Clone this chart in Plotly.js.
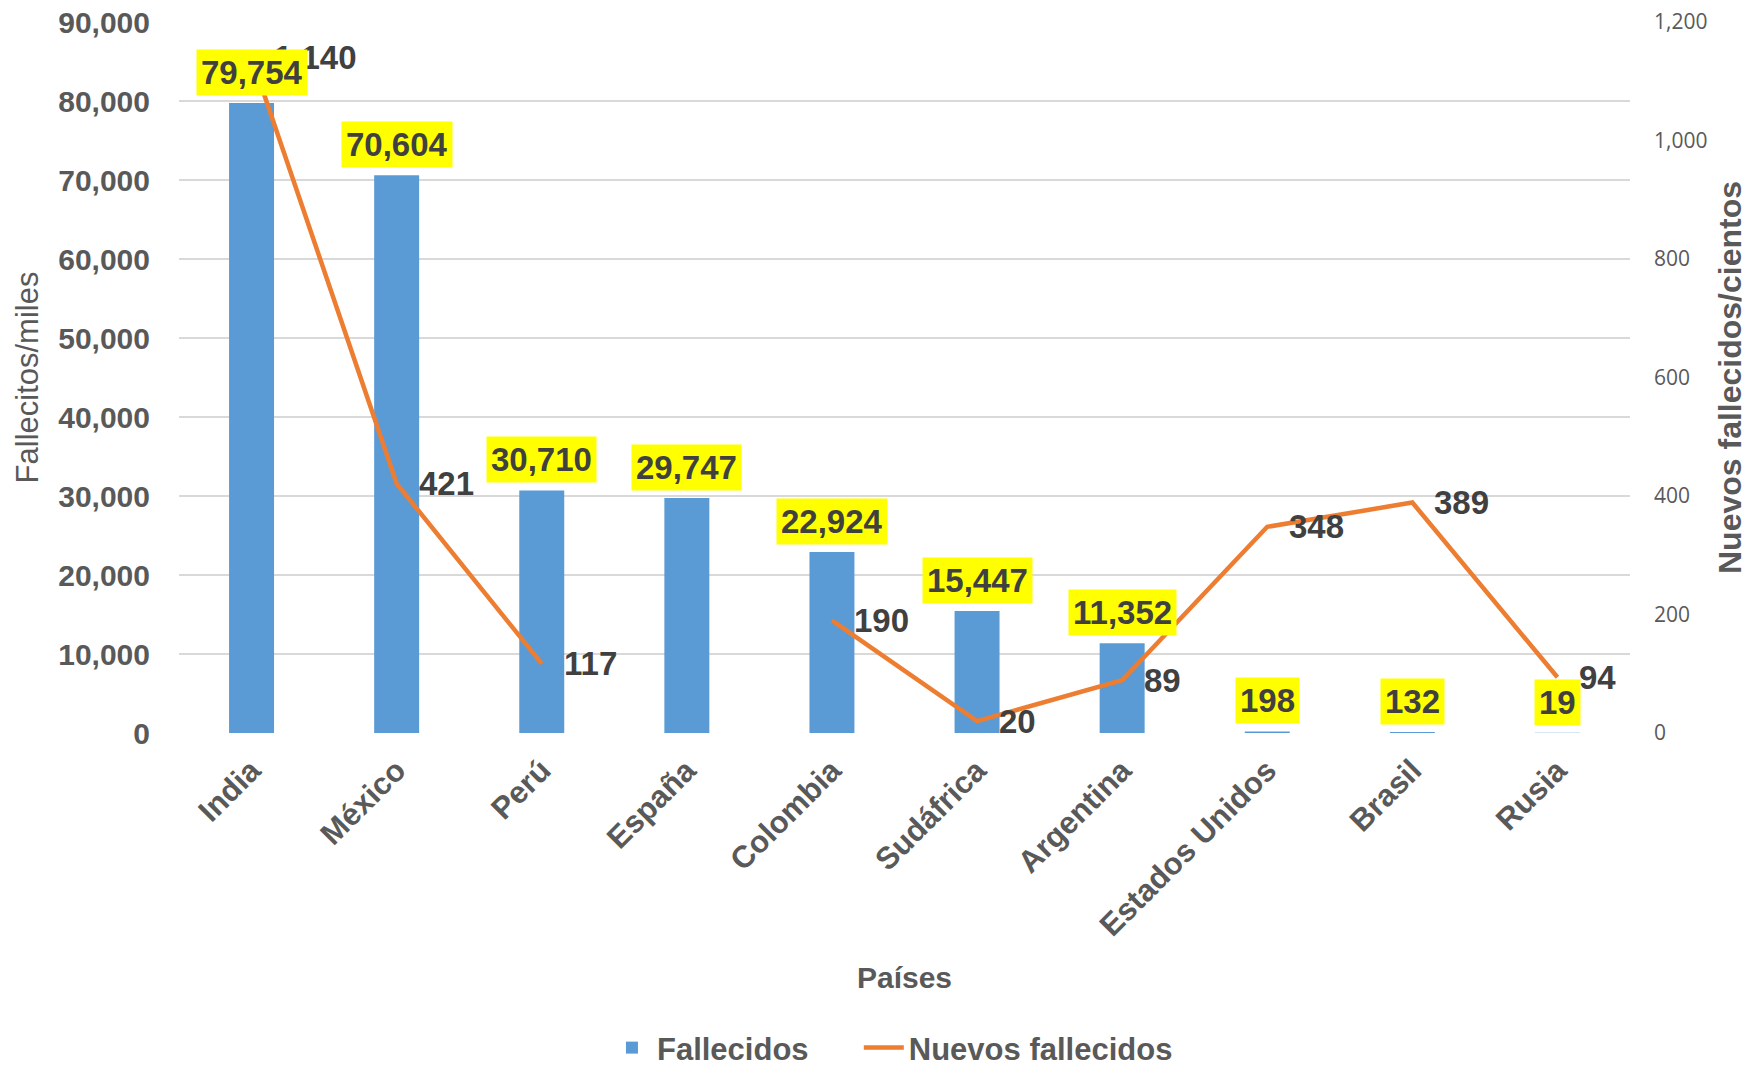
<!DOCTYPE html>
<html>
<head>
<meta charset="utf-8">
<script src="https://cdn.plot.ly/plotly-3.0.1.min.js"></script>
<style>html,body{margin:0;padding:0;background:#fff;}#chart{width:1757px;height:1068px;}</style>
</head>
<body>
<div id="chart"></div>
<script>
const paises = ['India','México','Perú','España','Colombia','Sudáfrica','Argentina','Estados Unidos','Brasil','Rusia'];
const fallecidos = [79754,70604,30710,29747,22924,15447,11352,198,132,19];
const nuevosFallecidos = [1140,421,117,null,190,20,89,348,389,94];
const leftTicks = [0,10000,20000,30000,40000,50000,60000,70000,80000,90000];
const rightTicks = [0,200,400,600,800,1000,1200];

const FONT = 'Liberation Sans, Arial, sans-serif';
const GREY = '#595959';
const DARK = '#404040';

const fmt = v => v.toLocaleString('en-US');

const traces = [
  {
    type: 'bar', name: 'Fallecidos', x: paises, y: fallecidos,
    marker: {color: '#5B9BD5'}, yaxis: 'y', hoverinfo: 'x+y', legend: 'legend'
  },
  {
    type: 'scatter', mode: 'lines', name: 'Nuevos fallecidos', x: paises, y: nuevosFallecidos,
    line: {color: '#ED7D31', width: 4.5}, yaxis: 'y2', connectgaps: false, legend: 'legend2'
  }
];

const annotations = [];
paises.forEach((p, i) => {
  if (nuevosFallecidos[i] !== null) {
    annotations.push({
      x: p, y: nuevosFallecidos[i], xref: 'x', yref: 'y2', showarrow: false,
      text: fmt(nuevosFallecidos[i]), xanchor: 'left', yanchor: 'middle', xshift: 20,
      font: {family: FONT, size: 33, color: DARK, weight: 'bold'}
    });
  }
});
paises.forEach((p, i) => {
  annotations.push({
    x: p, y: fallecidos[i], xref: 'x', yref: 'y', showarrow: false,
    text: fmt(fallecidos[i]), xanchor: 'center', yanchor: 'bottom', yshift: 7,
    bgcolor: '#FFFF00', borderpad: 4,
    font: {family: FONT, size: 33, color: DARK, weight: 'bold'}
  });
});

const legendFont = {family: FONT, size: 31, color: GREY, weight: 'bold'};

const layout = {
  width: 1757, height: 1068,
  margin: {l: 179, r: 127, t: 22, b: 335, autoexpand: false},
  paper_bgcolor: '#fff', plot_bgcolor: '#fff',
  bargap: 0.69,
  showlegend: true,
  legend: {
    orientation: 'h', x: 0.4376, xanchor: 'right', y: -0.443, yanchor: 'middle',
    font: legendFont, itemwidth: 40
  },
  legend2: {
    orientation: 'h', x: 0.4685, xanchor: 'left', y: -0.443, yanchor: 'middle',
    font: legendFont, itemwidth: 40
  },
  xaxis: {
    type: 'category', tickangle: -45, showgrid: false, zeroline: false, showline: false,
    automargin: false,
    tickfont: {family: FONT, size: 31, color: GREY, weight: 'bold'},
    ticklabelstandoff: 12,
    title: {text: 'Países', font: {family: FONT, size: 30, color: GREY, weight: 'bold'}, standoff: 24}
  },
  yaxis: {
    range: [0, 90000], tickvals: leftTicks, tickformat: ',d', automargin: false,
    showgrid: true, gridcolor: '#D9D9D9', gridwidth: 1.5, zeroline: false, showline: false,
    tickfont: {family: FONT, size: 30, color: GREY, weight: 'bold'},
    ticklabelstandoff: 28,
    title: {text: 'Fallecitos/miles', font: {family: FONT, size: 31, color: GREY}, standoff: 10}
  },
  yaxis2: {
    overlaying: 'y', side: 'right', range: [0, 1200], tickvals: rightTicks, tickformat: ',d',
    automargin: false, showgrid: false, zeroline: false, showline: false,
    tickfont: {family: 'Open Sans, sans-serif', size: 21, color: GREY},
    ticklabelstandoff: 23,
    title: {text: 'Nuevos fallecidos/cientos', font: {family: FONT, size: 32, color: GREY, weight: 'bold'}, standoff: 12}
  },
  annotations: annotations
};

Plotly.newPlot('chart', traces, layout, {displayModeBar: false, staticPlot: true});
</script>
</body>
</html>
